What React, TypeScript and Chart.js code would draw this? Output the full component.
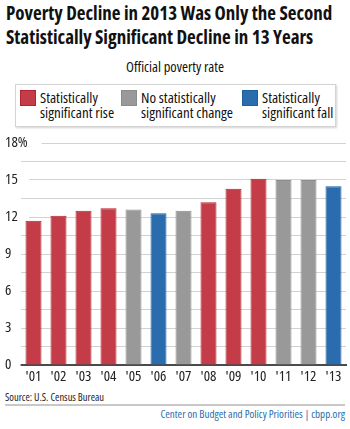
import React, { useEffect, useRef } from "react";
import { Chart, registerables } from "chart.js";

Chart.register(...registerables);

const years = ["'01", "'02", "'03", "'04", "'05", "'06", "'07", "'08", "'09", "'10", "'11", "'12", "'13"];
const rates = [11.7, 12.1, 12.5, 12.7, 12.6, 12.3, 12.5, 13.2, 14.3, 15.1, 15.0, 15.0, 14.5];
const significance = ["rise", "rise", "rise", "rise", "none", "fall", "none", "rise", "rise", "rise", "none", "none", "fall"];

const legendItems = [
  { key: "rise", line1: "Statistically", line2: "significant rise" },
  { key: "none", line1: "No statistically", line2: "significant change" },
  { key: "fall", line1: "Statistically", line2: "significant fall" },
];

const FILL: Record<string, string> = { rise: "#c33c47", none: "#999999", fall: "#2a6cae" };
const EDGE: Record<string, string> = { rise: "#b3222e", none: "#8c8c8c", fall: "#1f5f9f" };

const FONT = "'Open Sans', sans-serif";

const condensedPlugin = {
  id: "condensed",
  beforeDraw(chart: any) {
    try {
      (chart.ctx as any).fontStretch = "condensed";
    } catch (e) {}
  },
};

export default function App() {
  const ref = useRef<HTMLCanvasElement | null>(null);

  useEffect(() => {
    document.body.style.margin = "0";
    const ctx = ref.current!;
    const chart = new Chart(ctx, {
      type: "bar",
      data: {
        labels: years,
        datasets: [
          {
            data: rates,
            backgroundColor: significance.map((s) => FILL[s]),
            borderColor: significance.map((s) => EDGE[s]),
            borderWidth: 1,
            barPercentage: 0.64,
            categoryPercentage: 1,
          },
        ],
      },
      plugins: [condensedPlugin],
      options: {
        animation: false,
        responsive: false,
        maintainAspectRatio: false,
        layout: { padding: { top: 13, left: 5, right: 4, bottom: 0 } },
        plugins: { legend: { display: false }, tooltip: { enabled: false }, title: { display: false } },
        scales: {
          x: {
            grid: { display: false, drawTicks: false, tickLength: 0 },
            border: { display: true, color: "#4a4a4a", width: 2 },
            ticks: {
              autoSkip: false,
              maxRotation: 0,
              padding: 3,
              color: "#222",
              font: { family: FONT, size: 15, style: "condensed" },
            },
            afterFit: (s: any) => {
              s.height = 25;
            },
          },
          y: {
            min: 0,
            max: 18,
            border: { display: false },
            grid: { color: "#d2d2d2", lineWidth: 1, drawTicks: false, tickLength: 0 },
            ticks: {
              stepSize: 1.5,
              autoSkip: false,
              mirror: true,
              padding: -16,
              crossAlign: "near",
              color: "#222",
              font: { family: FONT, size: 15, style: "condensed" },
              showLabelBackdrop: true,
              backdropColor: "#ffffff",
              backdropPadding: { top: 0, bottom: 0, left: 0, right: 7 },
              callback: (v: any) => {
                const n = Number(v);
                if (Math.abs(n % 3) > 1e-9) return "";
                return n === 18 ? "18%" : String(n);
              },
            },
            afterFit: (s: any) => {
              s.width = 16;
            },
          },
        },
      } as any,
    });
    return () => chart.destroy();
  }, []);

  const cond: any = { fontStretch: "condensed" };

  return (
    <div style={{ position: "relative", width: 350, height: 429, background: "#fff", fontFamily: FONT, color: "#111", overflow: "hidden", ...cond }}>
      <div style={{ position: "absolute", left: 6, top: 1, fontSize: 19, fontWeight: "bold", lineHeight: "24px", whiteSpace: "nowrap", color: "#111" }}>
        Poverty Decline in 2013 Was Only the Second
        <br />
        Statistically Significant Decline in 13 Years
      </div>
      <div style={{ position: "absolute", left: 0, width: 350, top: 57, textAlign: "center", fontSize: 14.5 }}>
        Official poverty rate
      </div>
      <div style={{ position: "absolute", left: 15, top: 84, width: 319, height: 41, border: "1px solid #d4d4d4", boxShadow: "1px 1px 2px rgba(0,0,0,0.18)" }} />
      {legendItems.map((it, i) => {
        const lefts = [5, 106, 227];
        return (
          <div key={it.key} style={{ position: "absolute", left: 15 + lefts[i], top: 90 }}>
            <div style={{ position: "absolute", left: 0, top: 0, width: 14, height: 14, background: FILL[it.key], border: `1px solid ${EDGE[it.key]}` }} />
            <div style={{ position: "absolute", left: 20, top: 0, fontSize: 15, lineHeight: "15px", whiteSpace: "nowrap" }}>
              {it.line1}
              <br />
              {it.line2}
            </div>
          </div>
        );
      })}
      <canvas ref={ref} width={350} height={260} style={{ position: "absolute", left: 0, top: 130, width: 350, height: 260 }} />
      <div style={{ position: "absolute", left: 5, top: 390, fontSize: 10.5, color: "#222" }}>Source: U.S. Census Bureau</div>
      <div style={{ position: "absolute", left: 5, top: 404, width: 340, height: 2, background: "#c8c8c8" }} />
      <div style={{ position: "absolute", right: 5, top: 406, fontSize: 11, color: "#2a6cae" }}>
        Center on Budget and Policy Priorities | cbpp.org
      </div>
    </div>
  );
}
